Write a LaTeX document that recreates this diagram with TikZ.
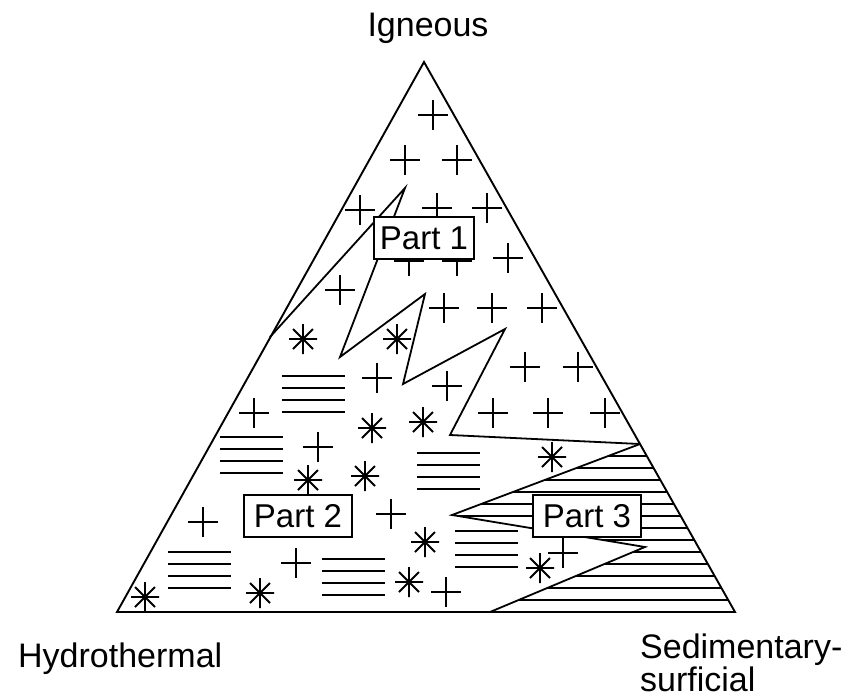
\documentclass[tikz,border=0pt]{standalone}
\usepackage{fontspec}
\setmainfont{Liberation Sans}
\begin{document}
\begin{tikzpicture}[x=1pt,y=-1pt,
  edge/.style={line width=1.9pt, line join=miter},
  zig/.style={line width=1.8pt, line join=miter},
  sym/.style={line width=1.8pt},
  hatch/.style={line width=1.5pt},
  box/.style={draw, fill=white, line width=1.6pt, inner sep=0pt,
     minimum height=42pt, font=\fontsize{33}{33}\selectfont},
  lab/.style={font=\fontsize{34}{34}\selectfont, inner sep=0pt},
  pl/.pic={\draw[sym] (-15,0)--(15,0) (0,-15)--(0,15);},
  ast/.pic={\draw[sym] (-14,0)--(14,0) (0,-15)--(0,15) (-10,-10)--(10,10) (-10,10)--(10,-10);},
  hl/.pic={\draw[sym] (0,0)--(63,0) (0,12)--(63,12) (0,24)--(63,24) (0,36)--(63,36);}
]
\useasboundingbox (0,0) rectangle (854,699);

% corners
\coordinate (I) at (424,62);
\coordinate (H) at (117,612);
\coordinate (S) at (735,612);

% Part 3 hatching
\begin{scope}
\clip (640,444) -- (452,515) -- (645,547) -- (490,612) -- (735,612) -- cycle;
\foreach \yy in {456,468,...,604} \draw[hatch] (430,\yy) -- (745,\yy);
\end{scope}

% zigzag boundary (Part 1 / Part 2)
\coordinate (z0) at (270,337);
\coordinate (z1) at (405,188);
\coordinate (z2) at (340,357);
\coordinate (z3) at (425,294);
\coordinate (z4) at (403,384);
\coordinate (z5) at (505,329);
\coordinate (z6) at (450,435);
\coordinate (z7) at (640,444);
\draw[zig] (z0) -- (z1) -- (z2) -- (z3) -- (z4) -- (z5) -- (z6) -- (z7);

% Part 3 boundary
\coordinate (w1) at (452,515);
\coordinate (w2) at (645,547);
\coordinate (w3) at (490,612);
\draw[zig] (z7) -- (w1) -- (w2) -- (w3);

% triangle
\draw[edge] (I) -- (H) -- (S) -- cycle;

% plus signs
\foreach \p in {(433,115),(405,160),(457,160),(360,210),(437,208),(487,208),
  (409,261),(457,261),(508,258),(340,290),(444,308),(492,308),(542,308),
  (377,378),(447,386),(525,367),(578,367),(493,413),(548,413),(605,413),
  (254,413),(318,447),(203,522),(391,514),(296,563),(446,592),(563,553)}
  \pic at \p {pl};

% asterisks
\foreach \p in {(303,339),(397,339),(372,428),(423,422),(308,480),(365,476),
  (552,457),(425,542),(409,582),(145,597),(260,593),(540,568)}
  \pic at \p {ast};

% horizontal line groups
\foreach \p in {(282,376),(220,437),(417,453),(168,552),(322,559),(455,531)}
  \pic at \p {hl};

% boxes
\node[box, minimum width=100pt] (p1) at (424,238) {Part 1};
\node[box, minimum width=108pt] (p2) at (298,516) {Part 2};
\node[box, minimum width=108pt] (p3) at (587,516) {Part 3};

% labels
\node[lab, anchor=base] (ign) at (428,36) {Igneous};
\node[lab, anchor=base west] (hyd) at (18,667) {Hydrothermal};
\node[lab, anchor=base west] (sed) at (640,658) {Sedimentary-};
\node[lab, anchor=base west] (sur) at (640,691) {surficial};
\end{tikzpicture}
\end{document}
